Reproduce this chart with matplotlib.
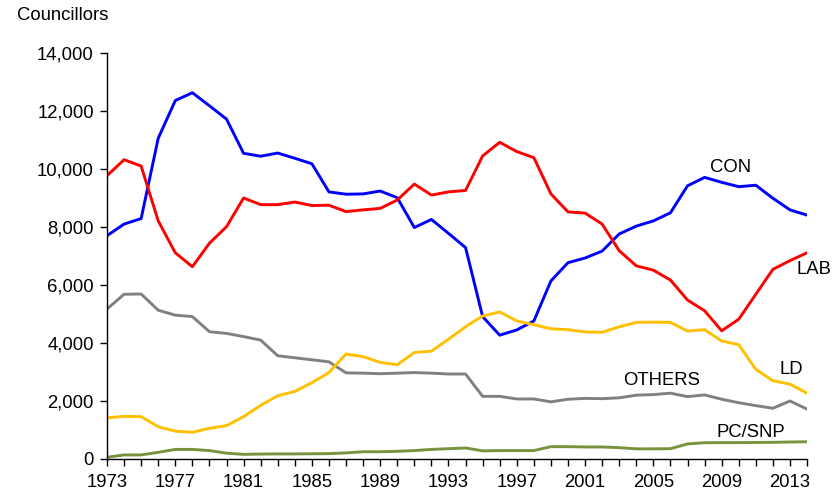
import matplotlib.pyplot as plt

plt.rcParams["font.family"] = ["Liberation Sans", "DejaVu Sans"]

years = list(range(1973, 2015))

con = [7700, 8100, 8290, 11060, 12360, 12630, 12180, 11720, 10540, 10440,
       10550, 10370, 10180, 9210, 9130, 9140, 9240, 9010, 7980, 8260,
       7780, 7290, 4910, 4270, 4450, 4760, 6140, 6770, 6930, 7170,
       7760, 8030, 8210, 8490, 9420, 9710, 9540, 9390, 9440, 8990,
       8590, 8410]
lab = [9770, 10320, 10100, 8210, 7110, 6630, 7440, 8010, 9000, 8770,
       8770, 8860, 8740, 8750, 8530, 8590, 8640, 8930, 9480, 9100,
       9210, 9260, 10450, 10920, 10600, 10390, 9140, 8520, 8480, 8100,
       7180, 6660, 6510, 6170, 5480, 5110, 4420, 4820, 5680, 6540,
       6840, 7110]
others = [5170, 5680, 5690, 5130, 4960, 4910, 4390, 4330, 4220, 4100,
          3560, 3490, 3420, 3350, 2970, 2960, 2940, 2960, 2980, 2960,
          2930, 2930, 2160, 2160, 2070, 2070, 1970, 2060, 2090, 2080,
          2110, 2200, 2220, 2270, 2150, 2210, 2060, 1940, 1840, 1750,
          2000, 1720]
ld = [1420, 1470, 1460, 1110, 960, 920, 1060, 1150, 1460, 1850,
      2180, 2330, 2630, 2980, 3620, 3530, 3330, 3250, 3670, 3720,
      4130, 4560, 4930, 5070, 4760, 4630, 4490, 4460, 4380, 4370,
      4560, 4710, 4720, 4710, 4410, 4460, 4070, 3940, 3090, 2700,
      2580, 2270]
pcsnp = [60, 140, 140, 230, 330, 330, 290, 200, 160, 170,
         175, 175, 180, 185, 210, 250, 250, 265, 290, 330,
         355, 380, 280, 290, 290, 290, 425, 425, 415, 415,
         390, 350, 350, 355, 520, 560, 565, 565, 570, 575,
         585, 595]

fig = plt.figure(figsize=(8.32, 4.92), dpi=100)
ax = fig.add_axes([0.1286, 0.0671, 0.8414, 0.8252])

lw = 2.1
ax.plot(years, con, color="#0000FF", lw=lw)
ax.plot(years, lab, color="#FF0000", lw=lw)
ax.plot(years, others, color="#808080", lw=lw)
ax.plot(years, ld, color="#FFC000", lw=lw)
ax.plot(years, pcsnp, color="#77933C", lw=lw)

fs = 13.3
ax.text(2008.3, 10050, "CON", fontsize=fs, va="center")
ax.text(2013.4, 6530, "LAB", fontsize=fs, va="center")
ax.text(2012.4, 3090, "LD", fontsize=fs, va="center")
ax.text(2003.2, 2690, "OTHERS", fontsize=fs, va="center")
ax.text(2008.7, 910, "PC/SNP", fontsize=fs, va="center")

ax.set_xlim(1973, 2014)
ax.set_ylim(0, 14000)
ax.set_xticks(years)
ax.set_xticklabels([str(y) if (y - 1973) % 4 == 0 else "" for y in years])
ax.set_yticks(range(0, 14001, 2000))
ax.set_yticklabels([f"{v:,}" for v in range(0, 14001, 2000)])
ax.tick_params(axis="both", direction="out", length=5, width=1,
               labelsize=fs)
ax.tick_params(axis="y", pad=4.5)
ax.tick_params(axis="x", pad=5.5)

for side in ["top", "right"]:
    ax.spines[side].set_visible(False)
for side in ["left", "bottom"]:
    ax.spines[side].set_linewidth(1)

fig.text(17 / 832, 1 - 7 / 492, "Councillors", fontsize=fs, va="top", ha="left")

fig.savefig("out.png", dpi=100)
